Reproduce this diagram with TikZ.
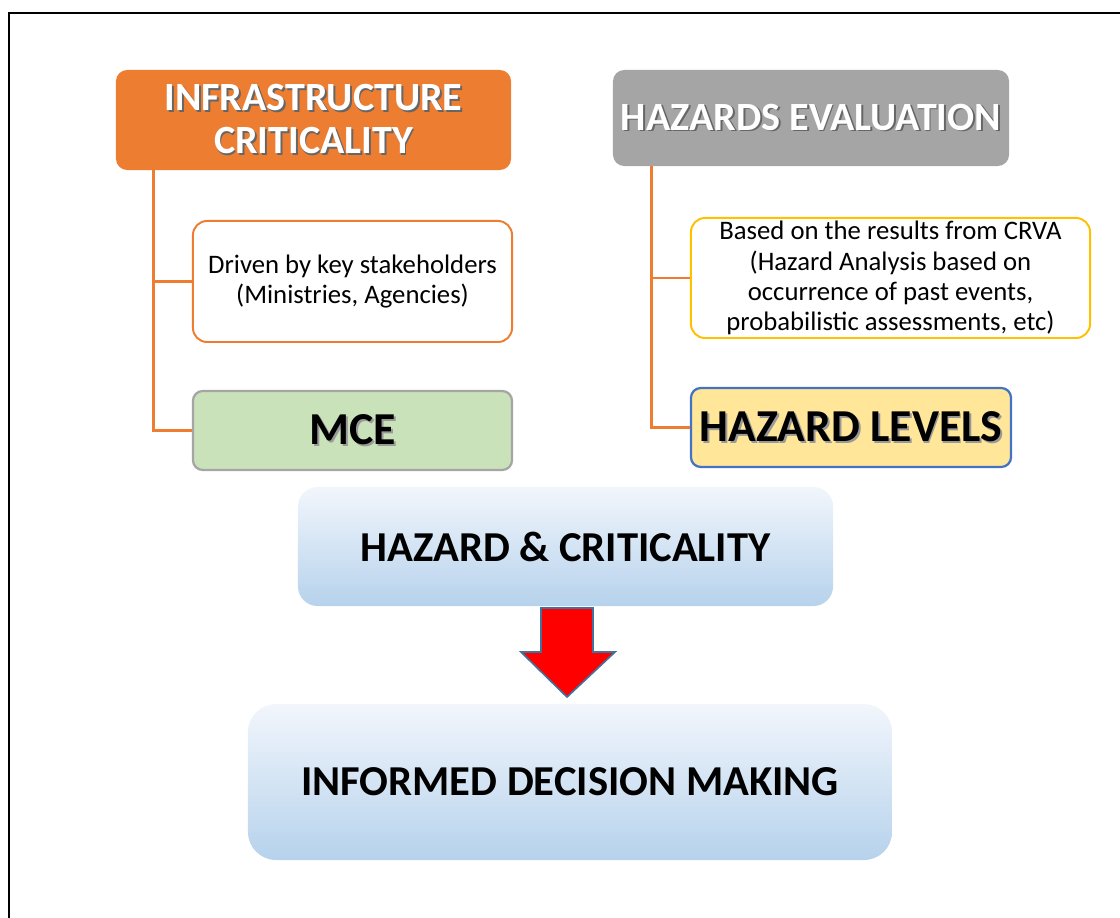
\documentclass[tikz,border=0pt]{standalone}
\usepackage{fontspec}
\setmainfont{Carlito}
\usetikzlibrary{positioning}

\definecolor{orangeA}{HTML}{ED7D31}
\definecolor{greyA}{HTML}{A5A5A5}
\definecolor{greenA}{HTML}{C9E2B9}
\definecolor{goldA}{HTML}{FFC000}
\definecolor{yellowA}{HTML}{FFE699}
\definecolor{blueA}{HTML}{4472C4}
\definecolor{steelA}{HTML}{41719C}
\definecolor{skyTop}{HTML}{F2F6FC}
\definecolor{skyBot}{HTML}{B6D2EC}

% text with a soft drop shadow
\newcommand{\shadowed}[2]{\makebox[0pt][l]{\kern1.3pt\raisebox{-1.3pt}{\color{#1}#2}}#2}

\tikzset{
  header/.style = {rounded corners=8pt, text=white, font=\fontsize{28.5}{30.6}\selectfont\bfseries,
                   align=center, inner sep=0pt},
  note/.style = {draw, line width=1.4pt, fill=white, rounded corners=10pt, align=center,
                 font=\fontsize{19}{21.5}\selectfont, inner sep=0pt},
  result/.style = {line width=1.6pt, rounded corners=7pt, font=\fontsize{32.5}{38}\selectfont\bfseries, inner sep=0pt},
  sky/.style = {top color=skyTop, bottom color=skyBot, font=\fontsize{30.3}{34}\selectfont\bfseries, inner sep=0pt},
  link/.style = {orangeA, line width=1.8pt},
}

\begin{document}
\begin{tikzpicture}[x=0.025cm, y=-0.025cm]
\useasboundingbox (0,0) rectangle (1120,918);
% frame
\draw[line width=2pt] (9,918) -- (9,13) -- (1120,13);

% left column
\node[header, fill=orangeA, minimum width=9.875cm, minimum height=2.5cm] (infra) at (313.5,120)
  {\shadowed{black!60}{INFRASTRUCTURE}\\\shadowed{black!60}{CRITICALITY}};
\node[note, draw=orangeA, minimum width=7.975cm, minimum height=3.025cm] (driven) at (352.5,281.5)
  {Driven by key stakeholders\\(Ministries, Agencies)};
\node[result, draw=greyA, fill=greenA, minimum width=7.975cm, minimum height=1.975cm] (mce) at (352.5,430.5)
  {\shadowed{black!40}{MCE}};

% right column
\node[header, fill=greyA, minimum width=9.9cm, minimum height=2.4cm] (hazeval) at (811,118)
  {\shadowed{black!60}{HAZARDS EVALUATION}};
\node[note, draw=goldA, minimum width=9.975cm, minimum height=3cm] (crva) at (890.5,278)
  {Based on the results from CRVA\\(Hazard Analysis based on\\occurrence of past events,\\probabilistic assessments, etc)};
\node[result, draw=blueA, fill=yellowA, minimum width=8cm, minimum height=1.975cm] (levels) at (851,427.5)
  {\shadowed{black!40}{HAZARD LEVELS}};

% branches
\draw[link] ([xshift=0.95cm]infra.south west) |- (driven.west);
\draw[link] ([xshift=0.95cm]infra.south west) |- (mce.west);
\draw[link] ([xshift=0.975cm]hazeval.south west) |- (crva.west);
\draw[link] ([xshift=0.975cm]hazeval.south west) |- (levels.west);

% bottom
\node[sky, rounded corners=14pt, minimum width=13.375cm, minimum height=2.975cm] (hc) at (565.5,546.5)
  {HAZARD \& CRITICALITY};
\node[sky, rounded corners=20pt, minimum width=16.1cm, minimum height=3.9cm] (idm) at (570,782)
  {INFORMED DECISION MAKING};

% block arrow
\draw[steelA, fill=red, line width=1.2pt, line join=miter]
  (541,608) -- (593,608) -- (593,652) -- (615,652) -- (567,697)
  -- (521,652) -- (541,652) -- cycle;
\end{tikzpicture}
\end{document}
